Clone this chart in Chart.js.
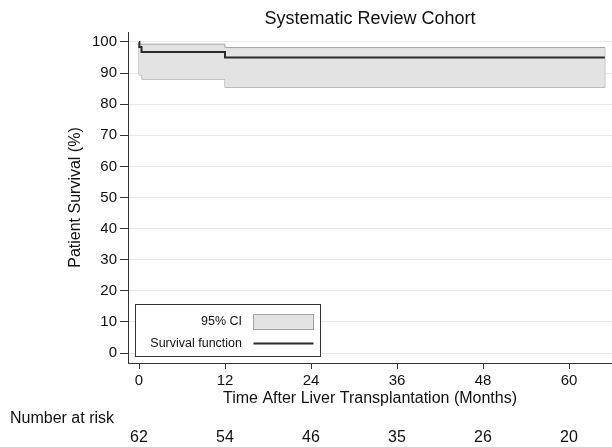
<!DOCTYPE html>
<html>
<head>
<meta charset="utf-8">
<script src="https://cdn.jsdelivr.net/npm/chart.js@4.4.1/dist/chart.umd.min.js"></script>
<style>
  html, body { margin: 0; padding: 0; background: #ffffff; }
  #wrap { width: 612px; height: 447px; }
</style>
</head>
<body>
<div id="wrap"><canvas id="c" width="612" height="447"></canvas></div>
<script>
// ---- Data ----
const chartTitle = "Systematic Review Cohort";
const xAxisTitle = "Time After Liver Transplantation (Months)";
const yAxisTitle = "Patient Survival (%)";
const riskLabel = "Number at risk";

// Kaplan-Meier survival estimate (step function)
const survTimes  = [0, 0.05, 0.35, 12, 65];
const survValues = [100, 98.4, 96.8, 95.0, 95.0];

// 95% confidence band (step functions)
const ciUpperTimes  = [0, 12, 65];
const ciUpperValues = [99.3, 98.2, 98.2];
const ciLowerTimes  = [0, 0, 0.4, 12, 65, 65];
const ciLowerValues = [99.3, 89.4, 88.0, 85.4, 85.4, 98.2];

// Axis ticks and number-at-risk table
const xTicks = [0, 12, 24, 36, 48, 60];
const yTicks = [0, 10, 20, 30, 40, 50, 60, 70, 80, 90, 100];
const atRisk = [62, 54, 46, 35, 26, 20];

const legendLabels = ["95% CI", "Survival function"];

// ---- Styles ----
const FONT = "'Liberation Sans', Arial, Helvetica, sans-serif";
const bandFill = "#e3e3e3";
const bandEdge = "#a3a3a3";
const lineColor = "#2a2a2a";
const axisColor = "#333333";

const toPts = (xs, ys) => xs.map((x, i) => ({ x: x, y: ys[i] }));

const legendPlugin = {
  id: "kmLegend",
  afterDatasetsDraw(chart) {
    const { ctx, chartArea } = chart;
    const left = chartArea.left + 7.5, bottom = chartArea.bottom - 6.5;
    const w = 185, h = 52;
    const top = bottom - h;
    ctx.save();
    ctx.fillStyle = "#ffffff";
    ctx.fillRect(left, top, w, h);
    ctx.strokeStyle = axisColor;
    ctx.lineWidth = 1;
    ctx.strokeRect(left, top, w, h);
    ctx.font = "12.5px " + FONT;
    ctx.fillStyle = "#111";
    ctx.textAlign = "right";
    ctx.textBaseline = "middle";
    const textRight = left + 106.5;
    const row1 = top + 17.5, row2 = top + 39;
    ctx.fillText(legendLabels[0], textRight, row1);
    ctx.fillText(legendLabels[1], textRight, row2);
    // swatch
    const sx = left + 118, sw = 60;
    ctx.fillStyle = bandFill;
    ctx.fillRect(sx, row1 - 7.5, sw, 15);
    ctx.strokeStyle = bandEdge;
    ctx.strokeRect(sx, row1 - 7.5, sw, 15);
    // line
    ctx.strokeStyle = lineColor;
    ctx.lineWidth = 1.8;
    ctx.beginPath();
    ctx.moveTo(sx, row2);
    ctx.lineTo(sx + sw, row2);
    ctx.stroke();
    ctx.restore();
  }
};

const riskPlugin = {
  id: "riskTable",
  afterDraw(chart) {
    const { ctx } = chart;
    const xs = chart.scales.x;
    ctx.save();
    ctx.font = "16px " + FONT;
    ctx.fillStyle = "#111";
    ctx.textBaseline = "middle";
    ctx.textAlign = "left";
    ctx.fillText(riskLabel, 10, 419);
    ctx.textAlign = "center";
    atRisk.forEach((n, i) => {
      ctx.fillText(String(n), xs.getPixelForValue(xTicks[i]), 437.5);
    });
    ctx.restore();
  }
};

new Chart(document.getElementById("c"), {
  type: "line",
  data: {
    datasets: [
      {
        label: "Survival function",
        data: toPts(survTimes, survValues),
        borderColor: lineColor,
        borderWidth: 2,
        stepped: "before",
        pointRadius: 0,
        fill: false,
        order: 0
      },
      {
        label: "95% CI upper",
        data: toPts(ciUpperTimes, ciUpperValues),
        borderColor: bandEdge,
        borderWidth: 1,
        backgroundColor: bandFill,
        stepped: "before",
        pointRadius: 0,
        fill: "+1",
        order: 1
      },
      {
        label: "95% CI lower",
        data: toPts(ciLowerTimes, ciLowerValues),
        borderColor: bandEdge,
        borderWidth: 1,
        stepped: "before",
        pointRadius: 0,
        fill: false,
        order: 2
      }
    ]
  },
  options: {
    responsive: false,
    animation: false,
    devicePixelRatio: 1,
    layout: { padding: { left: 0, right: 0, top: 0, bottom: 37 } },
    plugins: {
      legend: { display: false },
      tooltip: { enabled: false },
      title: {
        display: true,
        text: chartTitle,
        fullSize: false,
        color: "#111",
        font: { family: FONT, size: 18, weight: "normal" },
        padding: { top: 8, bottom: 2.4 }
      }
    },
    scales: {
      x: {
        type: "linear",
        min: -1.535,
        max: 66.0,
        afterBuildTicks: (s) => { s.ticks = xTicks.map(v => ({ value: v })); },
        afterFit: (s) => { s.height = 47; },
        ticks: {
          color: "#111",
          font: { family: FONT, size: 15 },
          padding: 3,
          maxRotation: 0,
          autoSkip: false
        },
        grid: { drawOnChartArea: false, tickLength: 6, tickColor: axisColor, tickWidth: 1 },
        border: { display: true, color: axisColor, width: 1 },
        title: {
          display: true,
          text: xAxisTitle,
          color: "#111",
          font: { family: FONT, size: 16 },
          padding: { top: 0, bottom: 2.3 }
        }
      },
      y: {
        type: "linear",
        min: -3.2,
        max: 103.2,
        afterBuildTicks: (s) => { s.ticks = yTicks.map(v => ({ value: v })); },
        afterFit: (s) => { s.width = 128; },
        ticks: {
          color: "#111",
          font: { family: FONT, size: 15 },
          padding: 3,
          autoSkip: false
        },
        grid: { color: "#e9e9e9", lineWidth: 1, tickLength: 8, tickColor: axisColor, tickWidth: 1 },
        border: { display: true, color: axisColor, width: 1 },
        title: {
          display: true,
          text: yAxisTitle,
          color: "#111",
          font: { family: FONT, size: 16 },
          padding: { top: 66, bottom: 0 }
        }
      }
    }
  },
  plugins: [legendPlugin, riskPlugin]
});
</script>
</body>
</html>
